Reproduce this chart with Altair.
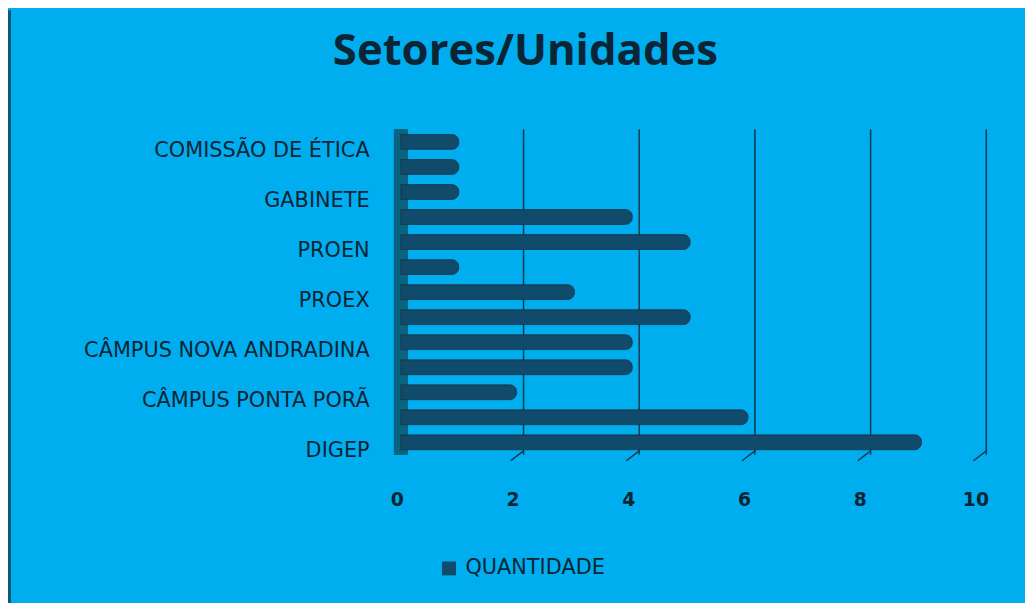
import altair as alt
import pandas as pd

# top-to-bottom order as drawn
categories = [
    "COMISSÃO DE ÉTICA", "_11", "GABINETE", "_9", "PROEN", "_7", "PROEX",
    "_5", "CÂMPUS NOVA ANDRADINA", "_3", "CÂMPUS PONTA PORÃ", "_1", "DIGEP",
]
values = [1, 1, 1, 4, 5, 1, 3, 5, 4, 4, 2, 6, 9]
series_name = "QUANTIDADE"
x_ticks = [0, 2, 4, 6, 8, 10]
grid_vals = [2, 4, 6, 8, 10]

df = pd.DataFrame({"setor": categories, "valor": values, "serie": series_name})
grid_df = pd.DataFrame({"g": grid_vals})

BG = "#00AEEF"
BAR = "#114B6B"
TXT = "#0C2535"
GRID = "#0E3A4E"
FONT = "DejaVu Sans"
TFONT = "Open Sans"

W, H = 583, 328
PL, PT = 396, 120

xscale = alt.Scale(domain=[0, 10], nice=False, zero=True)

grid = alt.Chart(grid_df).mark_rule(color=GRID, strokeWidth=1.5, xOffset=7).encode(
    x=alt.X("g:Q", scale=xscale)
)
slant = alt.Chart(grid_df).mark_rule(color=GRID, strokeWidth=1.5, xOffset=7, x2Offset=-6).encode(
    x=alt.X("g:Q", scale=xscale), x2="g:Q",
    y=alt.value(H - 4), y2=alt.value(H + 6),
)
wall = alt.Chart(grid_df).mark_rule(color="#0A6480", strokeWidth=14).encode(
    x=alt.datum(0, scale=xscale)
)
border = alt.Chart(pd.DataFrame({"a": [0]})).mark_rule(color="#0B5A75", strokeWidth=3).encode(
    x=alt.value(1.5 - PL), y=alt.value(-PT), y2=alt.value(H + 200)
)

bars = alt.Chart(df).mark_bar(size=15, cornerRadiusEnd=7, stroke="#1D3248", strokeWidth=0.8).encode(
    y=alt.Y(
        "setor:N", sort=categories, title=None,
        scale=alt.Scale(paddingInner=0.0, paddingOuter=0.0),
        axis=alt.Axis(
            domain=False, ticks=False, labelPadding=32, labelOffset=9, labelLimit=400,
            labelFont=FONT, labelFontSize=21, labelColor=TXT,
            labelExpr="indexof(datum.label, '_') == 0 ? '' : datum.label",
        ),
    ),
    x=alt.X(
        "valor:Q", scale=xscale, title=None,
        axis=alt.Axis(
            values=x_ticks, format="d", domain=False, ticks=False, grid=False,
            labelFont=FONT, labelFontSize=19, labelColor=TXT, labelFontWeight="bold",
            labelPadding=36, labelOffset=-4, labelFlush=False,
        ),
    ),
    color=alt.Color(
        "serie:N", scale=alt.Scale(range=[BAR]), title=None,
        legend=alt.Legend(
            orient="none", legendX=38, legendY=432, symbolType="square",
            symbolSize=196, symbolStrokeWidth=0, labelFont=FONT, labelFontSize=21,
            labelColor=TXT, labelOffset=6, padding=0,
        ),
    ),
)

chart = alt.layer(grid, slant, wall, bars, border).properties(
    width=W, height=H,
    title=alt.TitleParams(
        "Setores/Unidades", font=TFONT, fontSize=44, fontWeight="bold", color=TXT,
        anchor="middle", frame="group", dx=-166, offset=-66,
    ),
    background=BG,
    padding={"left": PL, "top": PT, "right": 1025 - PL - W, "bottom": 595 - PT - H},
    autosize=alt.AutoSizeParams(type="none"),
).configure_view(stroke=None)

chart.save("out.html", embed_options={"renderer": "svg", "actions": False})
